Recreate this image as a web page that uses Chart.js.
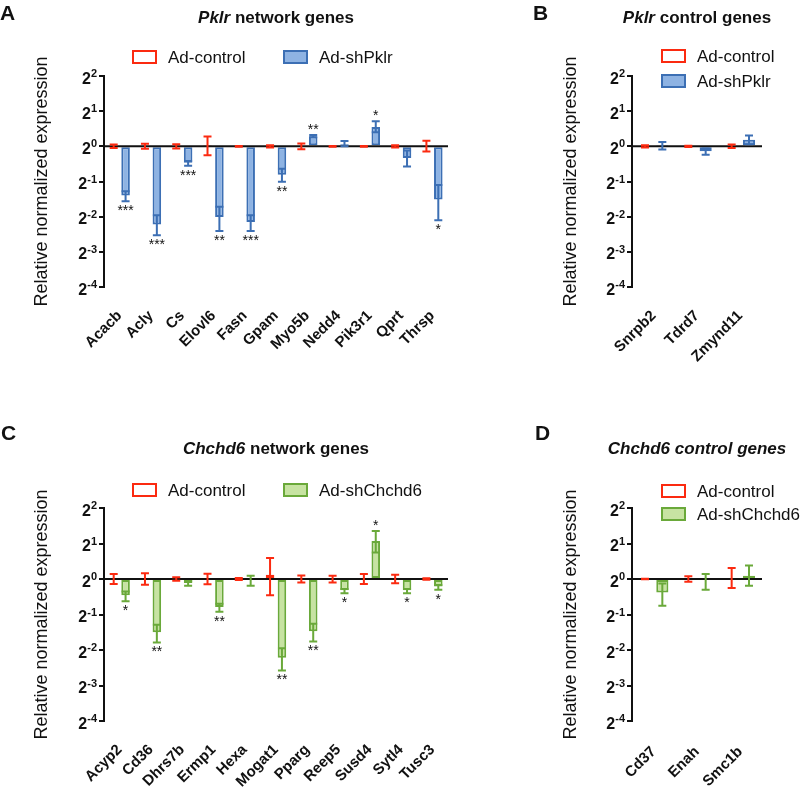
<!DOCTYPE html>
<html>
<head>
<meta charset="utf-8">
<script src="https://cdn.jsdelivr.net/npm/chart.js"></script>
<style>
  body { margin: 0; background: #fff; }
  #wrap { position: relative; width: 800px; height: 797px; }
  canvas { position: absolute; }
</style>
</head>
<body>
<div id="wrap">
  <canvas id="panelA" width="480" height="380" style="left:0;top:0"></canvas>
  <canvas id="panelB" width="320" height="380" style="left:480px;top:0"></canvas>
  <canvas id="panelC" width="480" height="417" style="left:0;top:380px"></canvas>
  <canvas id="panelD" width="320" height="417" style="left:480px;top:380px"></canvas>
</div>
<script>
// values are log2 of the relative expression (axis is 2^n)
const tickExps = [2, 1, 0, -1, -2, -3, -4];

// A - Pklr network genes
const pklrNetGenes = ['Acacb', 'Acly', 'Cs', 'Elovl6', 'Fasn', 'Gpam', 'Myo5b', 'Nedd4', 'Pik3r1', 'Qprt', 'Thrsp'];
const pklrNetCtrl = [0, 0, 0, 0.02, 0, 0, 0, 0, 0, 0, 0];
const pklrNetCtrlLo = [-0.05, -0.07, -0.06, -0.25, -0.01, -0.03, -0.08, -0.01, -0.01, -0.03, -0.15];
const pklrNetCtrlHi = [0.05, 0.07, 0.06, 0.28, 0.01, 0.03, 0.08, 0.01, 0.01, 0.03, 0.16];
const pklrNetSh = [-1.4, -2.22, -0.47, -2.01, -2.15, -0.81, 0.29, 0.06, 0.55, -0.33, -1.51];
const pklrNetShLo = [-1.56, -2.53, -0.55, -2.41, -2.41, -1.01, 0.26, 0.0, 0.4, -0.57, -2.1];
const pklrNetShHi = [-1.28, -1.96, -0.42, -1.72, -1.96, -0.64, 0.32, 0.15, 0.71, -0.12, -1.1];
const pklrNetStars = ['***', '***', '***', '**', '***', '**', '**', '', '*', '', '*'];

// B - Pklr control genes
const pklrCtlGenes = ['Snrpb2', 'Tdrd7', 'Zmynd11'];
const pklrCtlCtrl = [0, 0, 0];
const pklrCtlCtrlLo = [-0.03, -0.02, -0.05];
const pklrCtlCtrlHi = [0.03, 0.02, 0.05];
const pklrCtlSh = [0.02, -0.14, 0.19];
const pklrCtlShLo = [-0.09, -0.24, 0.06];
const pklrCtlShHi = [0.12, -0.06, 0.31];
const pklrCtlStars = ['', '', ''];

// C - Chchd6 network genes
const chchdNetGenes = ['Acyp2', 'Cd36', 'Dhrs7b', 'Ermp1', 'Hexa', 'Mogat1', 'Pparg', 'Reep5', 'Susd4', 'Sytl4', 'Tusc3'];
const chchdNetCtrl = [0, 0, 0, 0, 0, 0.12, 0, 0, 0, 0, 0];
const chchdNetCtrlLo = [-0.14, -0.16, -0.05, -0.15, -0.03, -0.46, -0.1, -0.1, -0.14, -0.12, -0.02];
const chchdNetCtrlHi = [0.14, 0.16, 0.05, 0.15, 0.03, 0.59, 0.1, 0.09, 0.14, 0.12, 0.02];
const chchdNetSh = [-0.46, -1.5, -0.11, -0.79, -0.02, -2.22, -1.47, -0.32, 1.07, -0.32, -0.21];
const chchdNetShLo = [-0.63, -1.79, -0.19, -0.92, -0.19, -2.58, -1.76, -0.4, 0.75, -0.4, -0.3];
const chchdNetShHi = [-0.35, -1.29, -0.06, -0.7, 0.09, -1.95, -1.26, -0.28, 1.35, -0.28, -0.17];
const chchdNetStars = ['*', '**', '', '**', '', '**', '**', '*', '*', '*', '*'];

// D - Chchd6 control genes
const chchdCtlGenes = ['Cd37', 'Enah', 'Smc1b'];
const chchdCtlCtrl = [0, 0, 0.03];
const chchdCtlCtrlLo = [-0.01, -0.08, -0.25];
const chchdCtlCtrlHi = [0.01, 0.08, 0.31];
const chchdCtlSh = [-0.38, -0.03, 0.09];
const chchdCtlShLo = [-0.75, -0.3, -0.19];
const chchdCtlShHi = [-0.13, 0.14, 0.38];
const chchdCtlStars = ['', '', ''];

const FONT = '"Liberation Sans", Arial, Helvetica, sans-serif';
const RED = '#fb2a10';
const BLUE = '#3c6fb4';
const BLUE_FILL = '#8eb3e3';
const GREEN = '#6aa93a';
const GREEN_FILL = '#c7e3a2';
const INK = '#111';

// error bars, baseline, stars, tick labels, titles, legends
const decorPlugin = {
    id: 'decor',
    afterDatasetsDraw(chart, args, opts) {
        const ctx = chart.ctx;
        const y = chart.scales.y;
        const area = chart.chartArea;
        ctx.save();

        // line at 2^0
        const y0 = y.getPixelForValue(0);
        ctx.strokeStyle = INK;
        ctx.lineWidth = 2;
        ctx.beginPath();
        ctx.moveTo(area.left, y0);
        ctx.lineTo(area.right, y0);
        ctx.stroke();

        // error bars
        chart.data.datasets.forEach((ds, i) => {
            const meta = chart.getDatasetMeta(i);
            ctx.strokeStyle = ds.borderColor;
            ctx.lineWidth = 2;
            meta.data.forEach((bar, j) => {
                const yLo = y.getPixelForValue(ds.errLo[j]);
                const yHi = y.getPixelForValue(ds.errHi[j]);
                const cw = 4;
                ctx.beginPath();
                ctx.moveTo(bar.x, yLo); ctx.lineTo(bar.x, yHi);
                ctx.moveTo(bar.x - cw, yLo); ctx.lineTo(bar.x + cw, yLo);
                ctx.moveTo(bar.x - cw, yHi); ctx.lineTo(bar.x + cw, yHi);
                ctx.stroke();
                if (ds.stars && ds.stars[j]) {
                    ctx.fillStyle = INK;
                    ctx.font = '14px ' + FONT;
                    ctx.textAlign = 'center';
                    ctx.textBaseline = 'top';
                    if (ds.data[j] < 0) ctx.fillText(ds.stars[j], bar.x, yLo + 3);
                    else ctx.fillText(ds.stars[j], bar.x, yHi - 12);
                }
            });
        });

        // y tick labels 2^n
        ctx.fillStyle = INK;
        ctx.textAlign = 'left';
        ctx.textBaseline = 'alphabetic';
        tickExps.forEach(e => {
            const py = y.getPixelForValue(e);
            const sup = String(e);
            ctx.font = 'bold 11px ' + FONT;
            const ws = ctx.measureText(sup).width;
            const xr = area.left - 7;
            ctx.fillText(sup, xr - ws, py + 1);
            ctx.font = 'bold 16px ' + FONT;
            const w2 = ctx.measureText('2').width;
            ctx.fillText('2', xr - ws - w2, py + 7.5);
        });

        // panel letter
        ctx.font = 'bold 21px ' + FONT;
        ctx.fillText(opts.letter, opts.letterX, opts.letterY);

        // title with italic gene name
        let total = 0;
        opts.title.forEach(p => {
            ctx.font = (p.italic ? 'italic ' : '') + 'bold 17px ' + FONT;
            total += ctx.measureText(p.text).width;
        });
        let tx = (area.left + area.right) / 2 - total / 2;
        opts.title.forEach(p => {
            ctx.font = (p.italic ? 'italic ' : '') + 'bold 17px ' + FONT;
            ctx.fillText(p.text, tx, opts.titleY);
            tx += ctx.measureText(p.text).width;
        });

        // legend
        ctx.font = '17px ' + FONT;
        ctx.textBaseline = 'middle';
        opts.legend.forEach((it, k) => {
            const ds = chart.data.datasets[k];
            ctx.fillStyle = ds.backgroundColor;
            ctx.fillRect(it.x, it.y - 6, 23, 12);
            ctx.strokeStyle = ds.borderColor;
            ctx.lineWidth = 2;
            ctx.strokeRect(it.x, it.y - 6, 23, 12);
            ctx.fillStyle = INK;
            ctx.fillText(ds.label, it.x + 35, it.y + 1);
        });
        ctx.restore();
    }
};

function makePanel(id, p) {
    const c = document.getElementById(id);
    return new Chart(c, {
        type: 'bar',
        data: {
            labels: p.genes,
            datasets: [
                { label: 'Ad-control', data: p.ctrl, errLo: p.ctrlLo, errHi: p.ctrlHi,
                  backgroundColor: '#ffffff', borderColor: RED, borderWidth: 2, borderSkipped: false },
                { label: p.shLabel, data: p.sh, errLo: p.shLo, errHi: p.shHi, stars: p.stars,
                  backgroundColor: p.fill, borderColor: p.stroke, borderWidth: 2, borderSkipped: false }
            ]
        },
        options: {
            responsive: false,
            animation: false,
            devicePixelRatio: 1,
            categoryPercentage: p.catPct,
            barPercentage: p.barPct,
            layout: { padding: { left: p.padLeft, right: c.width - p.right, top: p.top, bottom: 0 } },
            plugins: {
                legend: { display: false },
                tooltip: { enabled: false },
                decor: { letter: p.letter, letterX: p.letterX, letterY: p.letterY,
                         title: p.title, titleY: p.titleY, legend: p.legend }
            },
            scales: {
                x: {
                    offset: true,
                    grid: { display: false },
                    border: { display: false },
                    ticks: { autoSkip: false, minRotation: 45, maxRotation: 45, padding: p.labelPad,
                             color: INK, font: { family: FONT, size: 15, weight: 'bold' } },
                    afterFit: s => { s.height = c.height - p.bottom; }
                },
                y: {
                    min: -4, max: 2,
                    ticks: { display: false, stepSize: 1 },
                    grid: { drawOnChartArea: false, color: INK, lineWidth: 2, tickLength: 5 },
                    border: { color: INK, width: 2 },
                    title: { display: true, text: 'Relative normalized expression', color: INK,
                             font: { family: FONT, size: 18 }, padding: 0 },
                    afterFit: s => { s.width = p.left - p.padLeft; }
                }
            }
        },
        plugins: [decorPlugin]
    });
}

makePanel('panelA', {
    genes: pklrNetGenes, ctrl: pklrNetCtrl, ctrlLo: pklrNetCtrlLo, ctrlHi: pklrNetCtrlHi,
    sh: pklrNetSh, shLo: pklrNetShLo, shHi: pklrNetShHi, stars: pklrNetStars,
    shLabel: 'Ad-shPklr', fill: BLUE_FILL, stroke: BLUE,
    left: 104, right: 448, top: 76, bottom: 287, padLeft: 31, labelPad: 12,
    catPct: 0.76, barPct: 0.72,
    letter: 'A', letterX: 0, letterY: 20,
    title: [{ text: 'Pklr', italic: true }, { text: ' network genes' }], titleY: 23,
    legend: [{ x: 133, y: 57 }, { x: 284, y: 57 }]
});

makePanel('panelB', {
    genes: pklrCtlGenes, ctrl: pklrCtlCtrl, ctrlLo: pklrCtlCtrlLo, ctrlHi: pklrCtlCtrlHi,
    sh: pklrCtlSh, shLo: pklrCtlShLo, shHi: pklrCtlShHi, stars: pklrCtlStars,
    shLabel: 'Ad-shPklr', fill: BLUE_FILL, stroke: BLUE,
    left: 152, right: 282, top: 76, bottom: 287, padLeft: 80, labelPad: 12,
    catPct: 0.8, barPct: 0.7,
    letter: 'B', letterX: 53, letterY: 20,
    title: [{ text: 'Pklr', italic: true }, { text: ' control genes' }], titleY: 23,
    legend: [{ x: 182, y: 56 }, { x: 182, y: 81 }]
});

makePanel('panelC', {
    genes: chchdNetGenes, ctrl: chchdNetCtrl, ctrlLo: chchdNetCtrlLo, ctrlHi: chchdNetCtrlHi,
    sh: chchdNetSh, shLo: chchdNetShLo, shHi: chchdNetShHi, stars: chchdNetStars,
    shLabel: 'Ad-shChchd6', fill: GREEN_FILL, stroke: GREEN,
    left: 104, right: 448, top: 128, bottom: 341, padLeft: 31, labelPad: 12,
    catPct: 0.76, barPct: 0.72,
    letter: 'C', letterX: 1, letterY: 60,
    title: [{ text: 'Chchd6', italic: true }, { text: ' network genes' }], titleY: 74,
    legend: [{ x: 133, y: 110 }, { x: 284, y: 110 }]
});

makePanel('panelD', {
    genes: chchdCtlGenes, ctrl: chchdCtlCtrl, ctrlLo: chchdCtlCtrlLo, ctrlHi: chchdCtlCtrlHi,
    sh: chchdCtlSh, shLo: chchdCtlShLo, shHi: chchdCtlShHi, stars: chchdCtlStars,
    shLabel: 'Ad-shChchd6', fill: GREEN_FILL, stroke: GREEN,
    left: 152, right: 282, top: 128, bottom: 341, padLeft: 80, labelPad: 14,
    catPct: 0.8, barPct: 0.7,
    letter: 'D', letterX: 55, letterY: 60,
    title: [{ text: 'Chchd6 control genes', italic: true }], titleY: 74,
    legend: [{ x: 182, y: 111 }, { x: 182, y: 134 }]
});
</script>
</body>
</html>
